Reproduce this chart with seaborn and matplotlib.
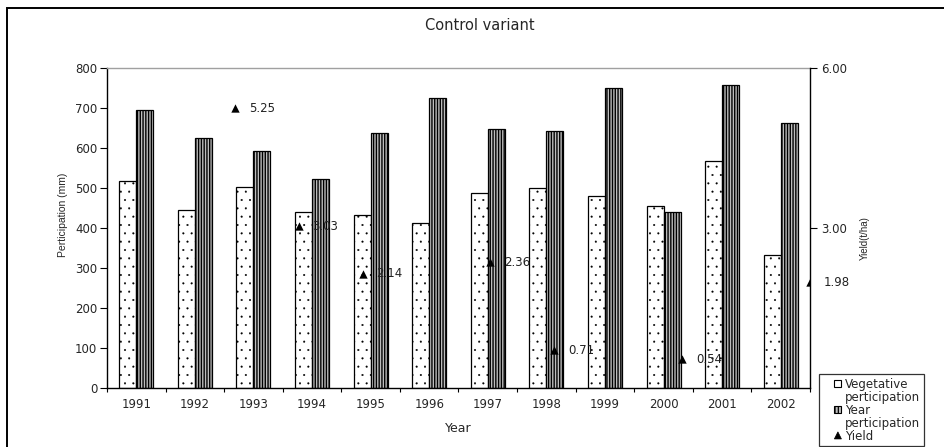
import matplotlib
matplotlib.use("Agg")
import matplotlib.pyplot as plt
from matplotlib.patches import Rectangle, Polygon
from matplotlib.legend_handler import HandlerPatch
from matplotlib.ticker import MultipleLocator, FormatStrFormatter
import seaborn as sns
import pandas as pd

# --- data -------------------------------------------------------------
years = ["1991", "1992", "1993", "1994", "1995", "1996",
         "1997", "1998", "1999", "2000", "2001", "2002"]
vegetative = [517, 444, 503, 439, 432, 412, 487, 499, 480, 456, 568, 332]
year_total = [696, 624, 592, 522, 637, 724, 647, 642, 751, 439, 757, 662]

yield_years = [1993, 1994, 1995, 1997, 1998, 2000, 2002]
yield_values = [5.25, 3.03, 2.14, 2.36, 0.71, 0.54, 1.98]

series_names = ["Vegetative perticipation", "Year perticipation"]

df = pd.DataFrame({
    "Year": years * 2,
    "Series": [series_names[0]] * len(years) + [series_names[1]] * len(years),
    "Value": vegetative + year_total,
})

# --- style ------------------------------------------------------------
sns.set_theme(style="white")
WIDE = ["DejaVu Sans"]
NARROW = ["Liberation Sans", "DejaVu Sans"]
plt.rcParams["font.family"] = WIDE
plt.rcParams["font.size"] = 8.5
plt.rcParams["hatch.linewidth"] = 0.9

fig = plt.figure(figsize=(9.44, 4.47), dpi=100)
W, H = 944, 447
ax = fig.add_axes([107 / W, 1 - 388 / H, 703 / W, 320 / H])

sns.barplot(data=df, x="Year", y="Value", hue="Series",
            palette=["white", "#bdbdbd"], edgecolor="black",
            linewidth=0.9, width=0.58, gap=0, ax=ax, legend=False)

for bar in ax.containers[0]:
    bar.set_hatch("..")
    if hasattr(bar, "set_hatch_linewidth"):
        bar.set_hatch_linewidth(0.25)
for bar in ax.containers[1]:
    bar.set_hatch("||||||")
    if hasattr(bar, "set_hatch_linewidth"):
        bar.set_hatch_linewidth(1.0)

ax.set_ylim(0, 800)
ax.set_xlim(-0.5, len(years) - 0.5)
ax.yaxis.set_major_locator(MultipleLocator(100))
ax.set_ylabel("Perticipation (mm)", fontsize=7.5, family=NARROW, labelpad=5)
ax.yaxis.label.set_y(0.54)
ax.set_xlabel("Year", fontsize=9, labelpad=8)

ax.tick_params(axis="y", which="major", direction="out", length=5,
               width=0.8, color="black", pad=2, left=True, labelsize=8.5)
ax.tick_params(axis="x", which="major", length=0, pad=7, labelsize=8.5)
ax.xaxis.set_minor_locator(MultipleLocator(1, offset=0.5))
ax.tick_params(axis="x", which="minor", direction="out", length=3,
               width=0.8, color="black", bottom=True)

for side in ("left", "bottom"):
    ax.spines[side].set_color("black")
    ax.spines[side].set_linewidth(1.0)
ax.spines["top"].set_color("#a0a0a0")
ax.spines["top"].set_linewidth(1.0)
ax.spines["right"].set_visible(False)

# secondary y axis for yield
ax2 = ax.twinx()
ax2.set_ylim(0, 6)
ax2.set_yticks([3, 6])
ax2.yaxis.set_major_formatter(FormatStrFormatter("%.2f"))
ax2.tick_params(axis="y", direction="out", length=5, width=0.8,
                color="black", pad=3, right=True, labelsize=8.5)
ax2.set_ylabel("Yield(t/ha)", fontsize=7, family=NARROW, labelpad=9)
ax2.yaxis.label.set_y(0.47)
for side in ("left", "top", "bottom"):
    ax2.spines[side].set_visible(False)
ax2.spines["right"].set_color("black")
ax2.spines["right"].set_linewidth(1.0)

# yield points use a continuous year scale spanning the plot width
ax3 = ax2.twiny()
ax3.set_xlim(1991, 2002)
ax3.set_xticks([])
for side in ax3.spines:
    ax3.spines[side].set_visible(False)
sns.scatterplot(x=yield_years, y=yield_values, marker="^", color="black",
                s=36, edgecolor="black", linewidth=0, ax=ax3, zorder=5)
for yr, v in zip(yield_years, yield_values):
    ax3.annotate(f"{v:.2f}", (yr, v), xytext=(10, 0),
                 textcoords="offset points", va="center", ha="left",
                 fontsize=8.5, color="#222222")

# title and outer chart frame
fig.text(480 / W, 1 - 25 / H, "Control variant", ha="center", va="center",
         fontsize=10.5)
fig.patches.append(Rectangle((7 / W, -0.2), 1.2, 1 - 8 / H + 0.2,
                             transform=fig.transFigure, fill=False,
                             edgecolor="black", linewidth=1.4))


# --- legend -----------------------------------------------------------
def legend_patch(legend, orig_handle, xdescent, ydescent, width, height,
                 fontsize):
    size = 0.6 * fontsize
    x0 = width - size - xdescent
    y0 = (height - size) / 2 - ydescent
    if isinstance(orig_handle, Polygon):
        return Polygon([[x0, y0], [x0 + size, y0], [x0 + size / 2, y0 + size]],
                       closed=True)
    return Rectangle((x0, y0), size, size)


h_veg = Rectangle((0, 0), 1, 1, facecolor="white", edgecolor="black",
                  linewidth=0.8)
h_year = Rectangle((0, 0), 1, 1, facecolor="#bdbdbd", edgecolor="black",
                   linewidth=0.8, hatch="|||||")
h_blank = Rectangle((0, 0), 1, 1, facecolor="none", edgecolor="none")
h_yield = Polygon([[0, 0], [1, 0], [0.5, 1]], closed=True,
                  facecolor="black", edgecolor="black", linewidth=0.5)

leg = fig.legend([h_veg, h_blank, h_year, h_blank, h_yield],
                 ["Vegetative", "perticipation", "Year", "perticipation",
                  "Yield"],
                 loc="upper left", bbox_to_anchor=(819 / W, 1 - 374 / H),
                 bbox_transform=fig.transFigure, borderaxespad=0,
                 frameon=True, fancybox=False, shadow=False,
                 fontsize=8.5, labelspacing=0.0, handlelength=1.6,
                 handleheight=0.7, handletextpad=0.3, borderpad=0.3,
                 handler_map={Rectangle: HandlerPatch(patch_func=legend_patch),
                              Polygon: HandlerPatch(patch_func=legend_patch)})
leg.get_frame().set_edgecolor("black")
leg.get_frame().set_linewidth(0.9)
leg.get_frame().set_facecolor("white")

fig.savefig("out.png", dpi=100)
